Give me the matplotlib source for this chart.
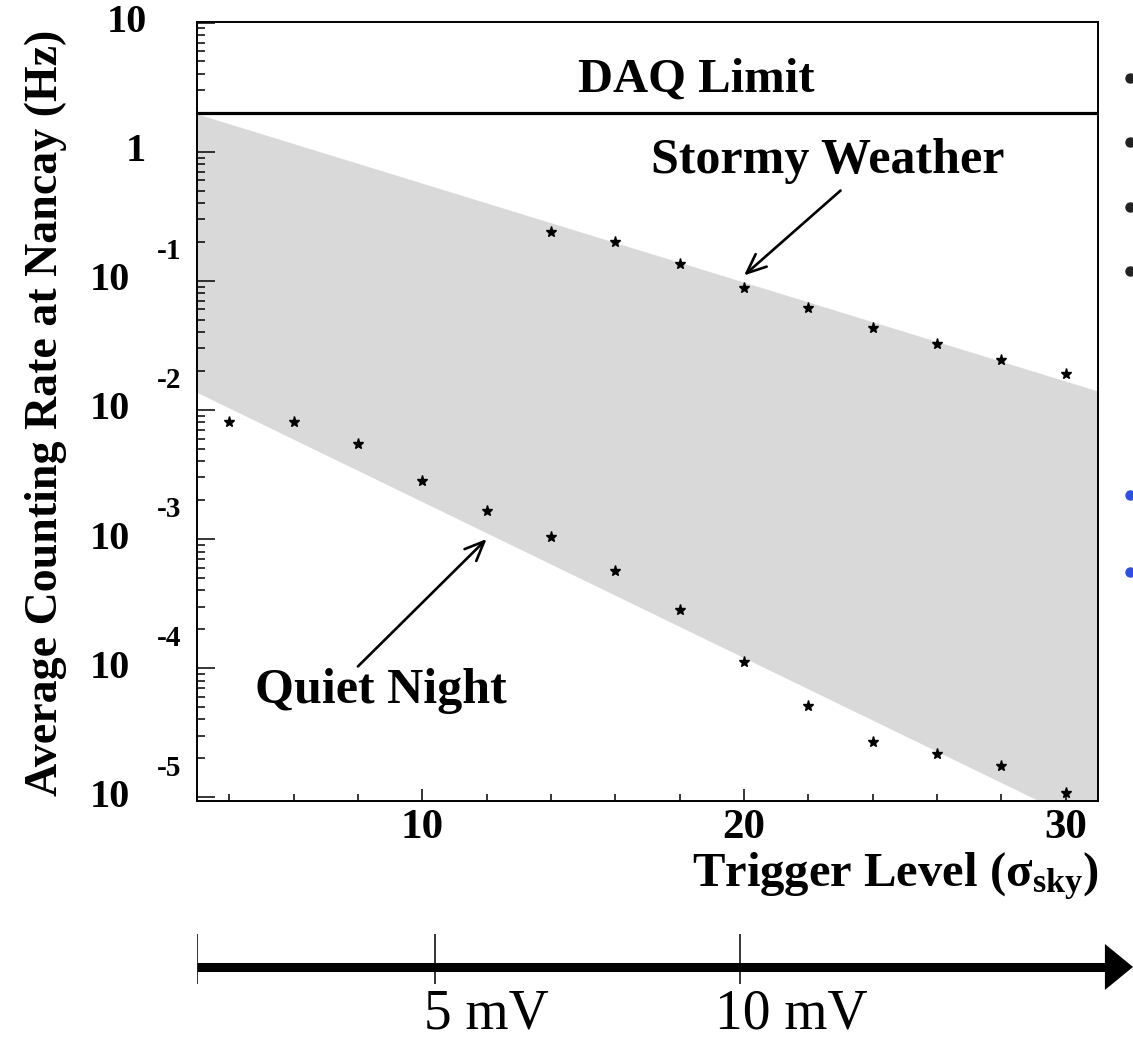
import matplotlib
matplotlib.use("Agg")
import matplotlib.pyplot as plt
from matplotlib.lines import Line2D
from matplotlib.ticker import FixedLocator, MultipleLocator, LogLocator, NullFormatter

plt.rcParams.update({
    "font.family": "Liberation Serif",
    "font.weight": "bold",
    "axes.labelweight": "bold",
    "mathtext.fontset": "custom",
    "mathtext.rm": "Liberation Serif:bold",
    "mathtext.bf": "Liberation Serif:bold",
    "mathtext.it": "Liberation Serif:italic:bold",
})

# trigger level in units of sigma_sky, counting rate in Hz
stormy_level = [14, 16, 18, 20, 22, 24, 26, 28, 30]
stormy_rate = [0.237, 0.198, 0.134, 0.0887, 0.061, 0.0434, 0.0321, 0.0245, 0.0191]

quiet_level = [4, 6, 8, 10, 12, 14, 16, 18, 20, 22, 24, 26, 28, 30]
quiet_rate = [8.1e-3, 8.0e-3, 5.4e-3, 2.83e-3, 1.66e-3, 1.04e-3, 5.7e-4,
              2.8e-4, 1.12e-4, 5.1e-5, 2.7e-5, 2.17e-5, 1.75e-5, 1.08e-5]

# shaded range of rates between the two regimes
band_level = [3, 31]
band_top_rate = [1.95, 0.0139]
band_low_rate = [0.0136, 5.6e-6]

daq_limit = 2.0

x_major = [10, 20, 30]
y_exponents = [-5, -4, -3, -2, -1, 0, 1]

# threshold voltage scale below the plot
mv_level = [10.4, 19.9]
mv_labels = ["5 mV", "10 mV"]

W, H = 1133, 1041
fig = plt.figure(figsize=(W / 100, H / 100), dpi=100)
fig.patch.set_facecolor("white")

ax = fig.add_axes([197 / W, 1 - 801 / H, 901 / W, 779 / H])
ax.set_yscale("log")
ax.set_xlim(3, 31)
ax.set_ylim(9.35e-6, 10.1)

ax.fill(band_level + band_level[::-1], band_top_rate + band_low_rate[::-1],
        color="#d9d9d9", lw=0, zorder=1)

ax.axhline(daq_limit, color="black", lw=2.3, zorder=3)

ax.plot(stormy_level, stormy_rate, ls="none", marker="*", ms=8, color="black", zorder=4)
ax.plot(quiet_level, quiet_rate, ls="none", marker="*", ms=8, color="black", zorder=4)

ax.text(18.5, 3.6, "DAQ Limit", ha="center", va="center", fontsize=35)

arrow_kw = dict(arrowstyle="->,head_length=0.7,head_width=0.3", lw=1.9,
                color="black", mutation_scale=20, shrinkA=0, shrinkB=0)
ax.text(22.6, 0.85, "Stormy Weather", ha="center", va="center", fontsize=36)
ax.annotate("", xy=(20, 0.11), xytext=(23.0, 0.50), arrowprops=arrow_kw)
ax.text(8.7, 6.6e-5, "Quiet Night", ha="center", va="center", fontsize=36)
ax.annotate("", xy=(12.0, 1.0e-3), xytext=(8.0, 1.03e-4), arrowprops=arrow_kw)

for s in ax.spines.values():
    s.set_linewidth(1.4)

ax.xaxis.set_major_locator(FixedLocator(x_major))
ax.xaxis.set_minor_locator(MultipleLocator(2))
ax.yaxis.set_major_locator(LogLocator(base=10, numticks=20))
ax.yaxis.set_minor_locator(LogLocator(base=10, subs=range(2, 10), numticks=20))
ax.yaxis.set_major_formatter(NullFormatter())
ax.yaxis.set_minor_formatter(NullFormatter())
ax.tick_params(axis="x", which="major", direction="in", length=9, width=1.1,
               labelsize=31, pad=6)
ax.tick_params(axis="x", which="minor", direction="in", length=5, width=1.1)
ax.tick_params(axis="y", which="major", direction="in", length=13, width=1.1)
ax.tick_params(axis="y", which="minor", direction="in", length=6, width=1.1)

# ROOT style decade labels: "10" with a raised exponent
for e in y_exponents:
    pos = ("axes fraction", "data")
    if e == 0:
        ax.annotate("1", xy=(0, 1.0), xycoords=pos, xytext=(-37, 0),
                    textcoords="offset points", ha="right", va="center", fontsize=29)
    elif e == 1:
        ax.annotate("10", xy=(0, 10.0), xycoords=pos, xytext=(-36, 0),
                    textcoords="offset points", ha="right", va="center", fontsize=29)
    else:
        ax.annotate("10", xy=(0, 10.0 ** e), xycoords=pos, xytext=(-48, 0),
                    textcoords="offset points", ha="right", va="center", fontsize=29)
        ax.annotate(str(e), xy=(0, 10.0 ** e), xycoords=pos, xytext=(-11, 21),
                    textcoords="offset points", ha="right", va="center", fontsize=21)

ax.set_xlabel(r"Trigger Level ($\mathrm{\sigma}_{\mathrm{sky}}$)", fontsize=35,
              fontweight="bold", loc="right")
ax.xaxis.set_label_coords(1.0, -0.064)

fig.text(46 / W, 1 - 413 / H, "Average Counting Rate at Nancay (Hz)", rotation=90,
         ha="center", va="center", fontsize=33)

# voltage scale
sax = fig.add_axes([197 / W, 0, 936 / W, 111 / H])
sax.set_xlim(3, 3 + 936 / 32.15)
sax.set_ylim(0, 1)
sax.axis("off")
sax.plot([3, 31.3], [0.667, 0.667], color="black", lw=6.5, solid_capstyle="butt")
sax.fill([31.24, 3 + 936 / 32.15, 31.24], [0.874, 0.667, 0.46], color="black", lw=0)
sax.vlines([3] + mv_level, 0.514, 0.964, color="black", lw=1.1)
for lvl, lab in zip(mv_level, mv_labels):
    sax.text(lvl + 1.6, 0.24, lab, ha="center", va="center", fontsize=40,
             fontweight="normal")

# bullet marks at the right edge
for yp, c in [(78, "#222222"), (142, "#222222"), (207, "#222222"), (271, "#222222"),
              (495, "#2f4fe0"), (572, "#2f4fe0")]:
    fig.add_artist(Line2D([1130 / W], [1 - yp / H], marker="o", ms=6.5, color=c,
                          ls="none", transform=fig.transFigure))

fig.savefig("out.png", dpi=100)
